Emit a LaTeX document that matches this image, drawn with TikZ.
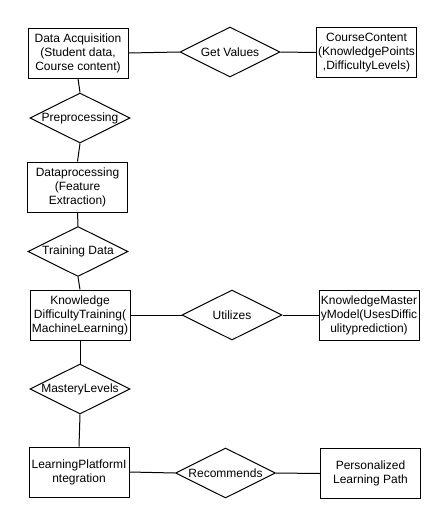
\documentclass[tikz,border=0pt]{standalone}
\usepackage{fontspec}
\setmainfont{Liberation Sans}
\usetikzlibrary{shapes.geometric}
\begin{document}
\begin{tikzpicture}[x=0.75pt,y=-0.75pt,line width=0.75pt,
  ent/.style={draw,minimum width=75pt,minimum height=37.5pt,inner sep=0pt,align=center,font=\fontsize{9}{10.5}\selectfont},
  rel/.style={draw,diamond,minimum width=75pt,minimum height=37.5pt,inner sep=0pt},
  lbl/.style={font=\fontsize{9}{10.5}\selectfont,inner sep=0pt}]
\useasboundingbox (0,0) rectangle (446,525);
\node[ent] (da) at (78,53) {Data Acquisition\\(Student data,\\Course content)};
\node[rel] (gv) at (230,52) {};
\node[lbl] at (gv) {Get Values};
\node[ent] (cc) at (366.5,52.5) {CourseContent\\(KnowledgePoints\\,DifficultyLevels)};
\node[rel] (pp) at (80,118) {};
\node[lbl] at (pp) {Preprocessing};
\node[ent] (dp) at (77.5,187) {Dataprocessing\\(Feature\\Extraction)};
\node[rel] (td) at (78,251.5) {};
\node[lbl] at (td) {Training Data};
\node[ent] (kd) at (80,315) {Knowledge\\DifficultyTraining(\\MachineLearning)};
\node[rel] (ut) at (232,315) {};
\node[lbl] at (ut) {Utilizes};
\node[ent] (km) at (369,315) {KnowledgeMaster\\yModel(UsesDiffic\\ulityprediction)};
\node[rel] (ml) at (80,389) {};
\node[lbl] at (ml) {MasteryLevels};
\node[ent] (lp) at (79,472) {LearningPlatformI\\ntegration};
\node[rel] (rc) at (225.5,473) {};
\node[lbl] at (rc) {Recommends};
\node[ent] (pl) at (370.5,473.5) {Personalized\\Learning Path};
\draw (da.east) -- (gv.west);
\draw (gv.east) -- (cc.west);
\draw (da.south) -- (pp.north);
\draw (pp.south) -- (dp.north);
\draw (dp.south) -- (td.north);
\draw (td.south) -- (kd.north);
\draw (kd.east) -- (ut.west);
\draw (ut.east) -- (km.west);
\draw (kd.south) -- (ml.north);
\draw (ml.south) -- (lp.north);
\draw (lp.east) -- (rc.west);
\draw (rc.east) -- (pl.west);
\end{tikzpicture}
\end{document}
